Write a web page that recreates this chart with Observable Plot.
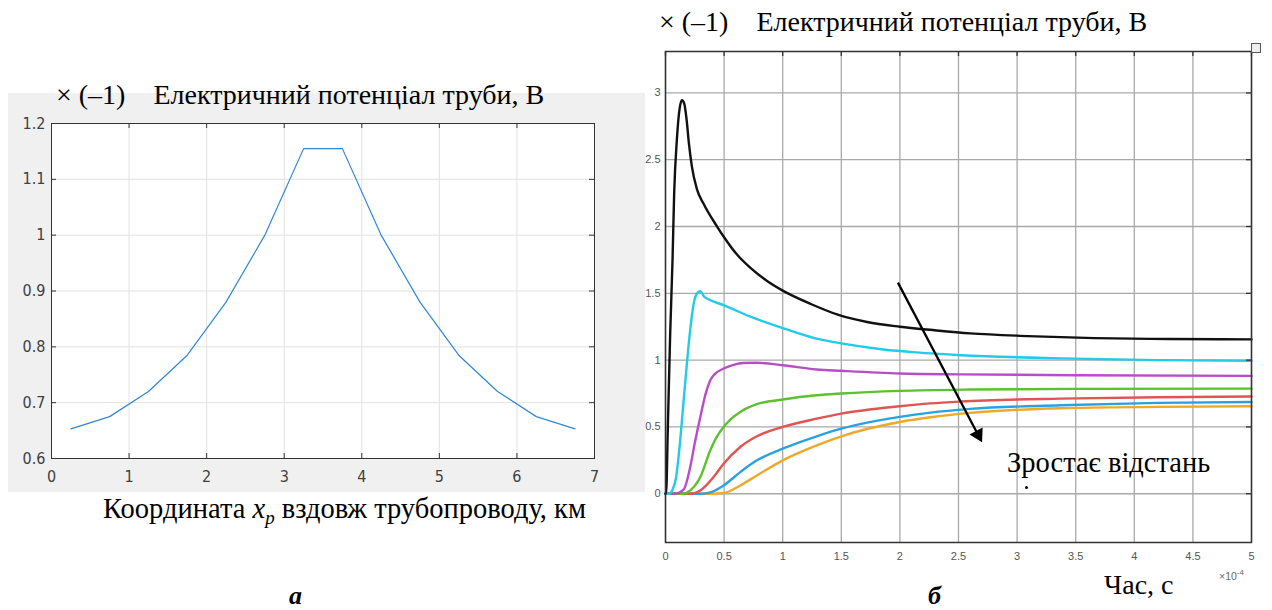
<!DOCTYPE html>
<html><head><meta charset="utf-8">
<script src="https://cdn.jsdelivr.net/npm/d3@7"></script>
<script src="https://cdn.jsdelivr.net/npm/@observablehq/plot@0.6"></script>
<style>
body{margin:0;width:1272px;height:610px;position:relative;background:#fff;overflow:hidden;}
.t{position:absolute;font-family:"Liberation Serif","Times New Roman",serif;color:#000;white-space:pre;line-height:1;}
#left,#right{position:absolute;}
</style></head><body>
<div id="left" style="left:8px;top:93px;"></div>
<div id="right" style="left:640px;top:40px;"></div>
<div class="t" id="titleL" style="left:56px;top:81px;font-size:28px">× (–1)    Електричний потенціал труби, В</div>
<div class="t" id="titleR" style="left:659px;top:8px;font-size:28px">× (–1)    Електричний потенціал труби, В</div>
<div class="t" id="xlabL" style="left:103px;top:495px;font-size:28.5px">Координата <i>x<sub style="font-size:19px;vertical-align:-6px">p</sub></i> вздовж трубопроводу, км</div>
<div class="t" id="panA" style="left:289px;top:583px;font-size:26px"><b><i>а</i></b></div>
<div class="t" id="panB" style="left:928px;top:583px;font-size:26px"><b><i>б</i></b></div>
<div class="t" id="ann" style="left:1007px;top:449px;font-size:28.5px">Зростає відстань</div>
<div class="t" id="xlabR" style="left:1104px;top:571px;font-size:28px">Час, с</div>
<div class="t" style="left:1219px;top:569px;font-size:10.5px;font-family:'Liberation Sans',sans-serif;color:#666">×10<sup style="font-size:8px">-4</sup></div>
<div style="position:absolute;left:1025px;top:486px;width:3px;height:3px;border-radius:2px;background:#000"></div>
<div style="position:absolute;left:1251px;top:43px;width:8px;height:8px;border:1px solid #555;background:#eee"></div>
<script>
// ---- panel a: potential along the pipeline ----
const xKm = [0.25,0.75,1.25,1.75,2.25,2.75,3.25,3.75,4.25,4.75,5.25,5.75,6.25,6.75];
const potential = [0.653,0.675,0.72,0.785,0.88,1.0,1.155,1.155,1.0,0.88,0.785,0.72,0.675,0.653];
const xTicksL = [0,1,2,3,4,5,6,7];
const yTicksL = [0.6,0.7,0.8,0.9,1.0,1.1,1.2];

// ---- panel b: potential vs time (time in 1e-4 s) ----
const tBlack = [0,0.005,0.02,0.04,0.06,0.074,0.097,0.12,0.14,0.16,0.18,0.2,0.225,0.268,0.325,0.44,0.5,0.61,0.725,0.87,1.0,1.24,1.47,1.72,2.0,2.28,2.6,3.09,3.66,4.3,5.0];
const vBlack = [0,0,0.5,1.2,1.75,2.25,2.65,2.88,2.945,2.92,2.8,2.62,2.45,2.28,2.17,2.0,1.92,1.79,1.69,1.59,1.52,1.42,1.34,1.285,1.25,1.225,1.2,1.18,1.165,1.158,1.155];
const tCyan = [0,0.03,0.06,0.09,0.12,0.15,0.18,0.21,0.24,0.27,0.297,0.33,0.38,0.5,0.725,1.0,1.28,1.5,1.86,2.14,2.52,3.37,4.2,5.0];
const vCyan = [0,0,0.03,0.12,0.35,0.65,0.95,1.22,1.42,1.5,1.515,1.475,1.45,1.41,1.325,1.24,1.163,1.125,1.08,1.058,1.037,1.013,1.0,0.995];
const tMagenta = [0,0.08,0.154,0.211,0.25,0.297,0.34,0.382,0.42,0.496,0.58,0.667,0.78,1.0,1.29,1.5,2.0,2.52,3.5,5.0];
const vMagenta = [0,0,0.03,0.2,0.38,0.575,0.74,0.85,0.895,0.937,0.965,0.978,0.98,0.962,0.93,0.92,0.9,0.893,0.887,0.882];
const tGreen = [0,0.15,0.211,0.297,0.382,0.44,0.496,0.56,0.638,0.78,1.0,1.29,1.5,2.0,2.6,3.5,5.0];
const vGreen = [0,0,0.025,0.125,0.325,0.43,0.5,0.56,0.612,0.67,0.705,0.737,0.75,0.77,0.78,0.785,0.787];
const tRed = [0,0.211,0.297,0.41,0.496,0.638,0.78,1.0,1.29,1.5,2.0,2.26,2.52,3.37,4.2,5.0];
const vRed = [0,0,0.025,0.125,0.225,0.35,0.43,0.5,0.562,0.6,0.655,0.676,0.69,0.712,0.722,0.728];
const tBlue = [0,0.3,0.382,0.496,0.638,0.78,1.0,1.29,1.5,2.0,2.26,2.6,3.37,4.2,5.0];
const vBlue = [0,0,0.01,0.062,0.162,0.25,0.337,0.43,0.487,0.575,0.607,0.635,0.662,0.68,0.687];
const tOrange = [0,0.4,0.496,0.638,0.78,1.0,1.29,1.5,2.0,2.26,2.6,3.37,4.2,5.0];
const vOrange = [0,0,0.005,0.062,0.137,0.25,0.362,0.43,0.537,0.572,0.605,0.64,0.65,0.655];
const xTicksR = [0,0.5,1,1.5,2,2.5,3,3.5,4,4.5,5];
const yTicksR = [0,0.5,1,1.5,2,2.5,3];
// annotation arrow "distance increases" (data units)
const arrowPts = [{t1:1.983, v1:1.58, t2:2.684, v2:0.413}];

// ---------- panel a ----------
const WL = 637, HL = 399, mlL = 43, mrL = 51, mtL = 30, mbL = 34;
const pwL = WL - mlL - mrL, phL = HL - mtL - mbL;
const leftData = xKm.map((x, i) => ({x, v: potential[i]}));
const leftPlot = Plot.plot({
  width: WL, height: HL, marginLeft: mlL, marginRight: mrL, marginTop: mtL, marginBottom: mbL,
  style: {background: "#f0f0f0", fontFamily: "'Liberation Sans Narrow','DejaVu Sans Condensed',sans-serif", fontSize: "16px", color: "#404040"},
  x: {domain: [0, 7], label: null},
  y: {domain: [0.6, 1.2], label: null},
  marks: [
    Plot.frame({fill: "white"}),
    Plot.ruleX(xTicksL, {x: d => d, stroke: "#e2e2e2"}),
    Plot.ruleY(yTicksL, {y: d => d, stroke: "#e2e2e2"}),
    Plot.line(leftData, {x: "x", y: "v", stroke: "#2f87d3", strokeWidth: 1.2}),
    Plot.frame({stroke: "#333", strokeWidth: 1}),
    Plot.tickY(yTicksL, {y: d => d, insetRight: pwL - 5, stroke: "#333"}),
    Plot.tickY(yTicksL, {y: d => d, insetLeft: pwL - 5, stroke: "#333"}),
    Plot.tickX(xTicksL, {x: d => d, insetTop: phL - 5, stroke: "#333"}),
    Plot.tickX(xTicksL, {x: d => d, insetBottom: phL - 5, stroke: "#333"}),
    Plot.axisX(xTicksL, {tickSize: 0, tickPadding: 12, label: null, tickFormat: d => String(d)}),
    Plot.axisY(yTicksL, {tickSize: 0, tickPadding: 6, label: null, tickFormat: d => String(d)})
  ]
});
document.getElementById("left").append(leftPlot);

// ---------- panel b ----------
const WR = 632, HR = 530, mlR = 25, mrR = 21, mtR = 11, mbR = 28;
const pwR = WR - mlR - mrR, phR = HR - mtR - mbR;
const yDomR = [-0.365, 3.31];
const series = [
  {s: "7", c: "#f0a828", t: tOrange, v: vOrange},
  {s: "6", c: "#2aa2e2", t: tBlue, v: vBlue},
  {s: "5", c: "#df5552", t: tRed, v: vRed},
  {s: "4", c: "#5cc12e", t: tGreen, v: vGreen},
  {s: "3", c: "#b84ec6", t: tMagenta, v: vMagenta},
  {s: "2", c: "#22cbe8", t: tCyan, v: vCyan},
  {s: "1", c: "#111111", t: tBlack, v: vBlack}
];
const rightRows = series.flatMap(d => d.t.map((t, i) => ({t, v: d.v[i], s: d.s, c: d.c})));
const pxT = pwR / 5, pxV = phR / (yDomR[1] - yDomR[0]);
const a = arrowPts[0];
const ddx = (a.t2 - a.t1) * pxT, ddy = (a.v1 - a.v2) * pxV;
const len = Math.hypot(ddx, ddy), ux = ddx / len, uy = ddy / len;
const triR = 5.5, tipD = 2 * triR * Math.sqrt(Math.PI / (3 * Math.sqrt(3)));
const ang = Math.atan2(ux, -uy) * 180 / Math.PI;
const shaft = arrowPts.map(p => ({t1: p.t1, v1: p.v1, t2: p.t2 - tipD * 0.6 * ux / pxT, v2: p.v2 + tipD * 0.6 * uy / pxV}));

const rightPlot = Plot.plot({
  width: WR, height: HR, marginLeft: mlR, marginRight: mrR, marginTop: mtR, marginBottom: mbR,
  style: {background: "transparent", fontFamily: "'Liberation Sans',Arial,sans-serif", fontSize: "11px", color: "#555"},
  x: {domain: [0, 5], label: null},
  y: {domain: yDomR, label: null},
  color: {type: "identity"},
  marks: [
    Plot.frame({fill: "white"}),
    Plot.ruleX(xTicksR, {x: d => d, stroke: "#a9a9a9", strokeWidth: 1.3}),
    Plot.ruleY(yTicksR, {y: d => d, stroke: "#a9a9a9", strokeWidth: 1.3}),
    Plot.line(rightRows, {x: "t", y: "v", z: "s", stroke: "c", strokeWidth: 2.4, curve: "monotone-x"}),
    Plot.frame({stroke: "#333", strokeWidth: 1.5}),
    Plot.tickY(yTicksR, {y: d => d, insetLeft: pwR - 5, stroke: "#333", strokeWidth: 1.3}),
    Plot.tickX(xTicksR, {x: d => d, insetBottom: phR - 5, stroke: "#333", strokeWidth: 1.3}),
    Plot.link(shaft, {x1: "t1", y1: "v1", x2: "t2", y2: "v2", stroke: "#000", strokeWidth: 2.3}),
    Plot.dot(arrowPts, {x: "t2", y: "v2", symbol: "triangle", r: triR, fill: "#000", stroke: "none", rotate: ang, dx: -tipD * 0.5 * ux, dy: -tipD * 0.5 * uy}),
    Plot.axisX(xTicksR, {tickSize: 0, tickPadding: 10, label: null, tickFormat: d => String(d)}),
    Plot.axisY(yTicksR, {tickSize: 0, tickPadding: 5, label: null, tickFormat: d => String(d)})
  ]
});
document.getElementById("right").append(rightPlot);
</script>
</body></html>
